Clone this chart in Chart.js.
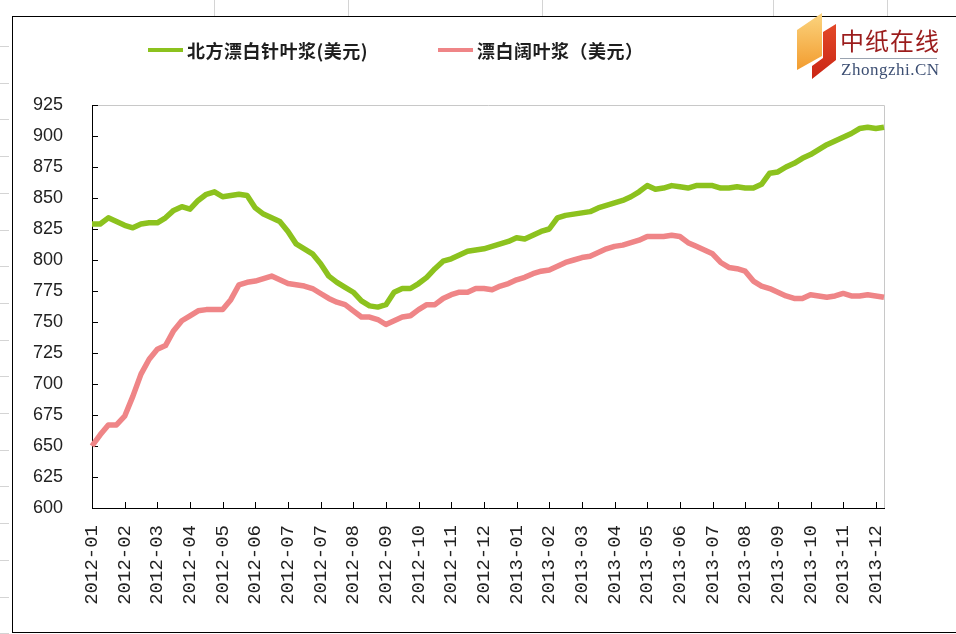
<!DOCTYPE html>
<html lang="zh-CN">
<head>
<meta charset="utf-8">
<title>北方漂白针叶浆 / 漂白阔叶浆 价格</title>
<script src="https://cdn.jsdelivr.net/npm/chart.js@4.4.1/dist/chart.umd.min.js"></script>
<style>
  html, body { margin: 0; padding: 0; background: #fff; }
  body { width: 956px; height: 634px; position: relative; overflow: hidden; font-family: "Noto Sans CJK SC", sans-serif; }
  #frame { position: absolute; left: 12px; top: 16px; width: 950px; height: 615px; border-left: 1px solid #000; border-top: 1px solid #000; border-bottom: 1px solid #000; }
  .cell-v { position: absolute; top: 0; width: 1px; height: 16px; background: #d4d4d4; }
  .cell-h { position: absolute; left: 0; width: 9px; height: 1px; background: #d4d4d4; }
  #legend { position: absolute; left: 148px; top: 37px; display: flex; align-items: center; }
  .legend-item { display: flex; align-items: center; margin-right: 70px; font-size: 18px; font-weight: 700; color: #1e1e1e; white-space: nowrap; letter-spacing: 0.5px; }
  .legend-line { width: 35px; height: 4px; margin-right: 4px; }
  #logo { position: absolute; left: 795px; top: 12px; width: 150px; height: 70px; }
  .logo-orange { position: absolute; left: 0; top: 0; width: 30px; height: 60px; background: linear-gradient(#fbd580, #f29a2c); clip-path: polygon(2px 18px, 27px 1px, 27px 44px, 2px 58px); }
  .logo-red { position: absolute; left: 0; top: 0; width: 42px; height: 70px; background: linear-gradient(#e8502c, #c92414); clip-path: polygon(28px 20px, 41px 12px, 41px 48px, 17px 67px, 17px 54px, 28px 46px); }
  .logo-cn { position: absolute; left: 45px; top: 13px; font-size: 24px; letter-spacing: 1px; color: #9b1c1c; line-height: 30px; }
  .logo-rule { position: absolute; left: 45px; top: 46px; width: 97px; height: 1px; background: #9aa3b0; }
  .logo-en { position: absolute; left: 46px; top: 48px; font-family: "Liberation Serif", serif; font-size: 17px; letter-spacing: 0.5px; color: #3d4f73; line-height: 20px; }
</style>
</head>
<body>
<div id="frame"></div>
<canvas id="pulpChart" width="956" height="634"></canvas>
<div id="legend"></div>
<div id="logo">
  <div class="logo-orange"></div>
  <div class="logo-red"></div>
  <div class="logo-cn">中纸在线</div>
  <div class="logo-rule"></div>
  <div class="logo-en">Zhongzhi.CN</div>
</div>
<script>
// month labels shown under every 4th weekly point (the sheet repeats 2012-07)
const tickLabels = [
  "2012-01", "2012-02", "2012-03", "2012-04", "2012-05", "2012-06", "2012-07", "2012-07",
  "2012-08", "2012-09", "2012-10", "2012-11", "2012-12",
  "2013-01", "2013-02", "2013-03", "2013-04", "2013-05", "2013-06", "2013-07",
  "2013-08", "2013-09", "2013-10", "2013-11", "2013-12"
];

const seriesNames = ["北方漂白针叶浆(美元)", "漂白阔叶浆（美元）"];

// weekly prices, USD/t
const softwood = [
  829, 829, 834, 831, 828, 826, 829, 830, 830, 834,
  840, 843, 841, 848, 853, 855, 851, 852, 853, 852,
  842, 837, 834, 831, 823, 813, 809, 805, 797, 787,
  782, 778, 774, 767, 763, 762, 764, 774, 777, 777,
  781, 786, 793, 799, 801, 804, 807, 808, 809, 811,
  813, 815, 818, 817, 820, 823, 825, 834, 836, 837,
  838, 839, 842, 844, 846, 848, 851, 855, 860, 857,
  858, 860, 859, 858, 860, 860, 860, 858, 858, 859,
  858, 858, 861, 870, 871, 875, 878, 882, 885, 889,
  893, 896, 899, 902, 906, 907, 906, 907
];

const hardwood = [
  650, 659, 667, 667, 674, 690, 708, 720, 728, 731,
  743, 751, 755, 759, 760, 760, 760, 768, 780, 782,
  783, 785, 787, 784, 781, 780, 779, 777, 773, 769,
  766, 764, 759, 754, 754, 752, 748, 751, 754, 755,
  760, 764, 764, 769, 772, 774, 774, 777, 777, 776,
  779, 781, 784, 786, 789, 791, 792, 795, 798, 800,
  802, 803, 806, 809, 811, 812, 814, 816, 819, 819,
  819, 820, 819, 814, 811, 808, 805, 798, 794, 793,
  791, 783, 779, 777, 774, 771, 769, 769, 772, 771,
  770, 771, 773, 771, 771, 772, 771, 770
];

const weeks = softwood.map((_, i) => i);
const labelEvery = 4;

// inward tick marks + grey frame on top/right, black axes left/bottom
const axisFrame = {
  id: "axisFrame",
  beforeDatasetsDraw(chart) {
    const { ctx, chartArea: a, scales: { x, y } } = chart;
    ctx.save();
    ctx.lineWidth = 1;
    ctx.strokeStyle = "#c8c8c8";
    ctx.beginPath();
    ctx.moveTo(a.left, a.top + 0.5);
    ctx.lineTo(a.right + 0.5, a.top + 0.5);
    ctx.lineTo(a.right + 0.5, a.bottom);
    ctx.stroke();

    ctx.strokeStyle = "#000";
    ctx.beginPath();
    ctx.moveTo(a.left + 0.5, a.top);
    ctx.lineTo(a.left + 0.5, a.bottom + 0.5);
    ctx.lineTo(a.right + 1, a.bottom + 0.5);
    y.ticks.forEach(t => {
      const py = Math.round(y.getPixelForValue(t.value)) + 0.5;
      ctx.moveTo(a.left, py);
      ctx.lineTo(a.left + 6, py);
    });
    tickLabels.forEach((_, i) => {
      const px = Math.round(x.getPixelForValue(i * labelEvery)) + 0.5;
      ctx.moveTo(px, a.bottom);
      ctx.lineTo(px, a.bottom - 6);
    });
    ctx.stroke();
    ctx.restore();
  }
};

const chart = new Chart(document.getElementById("pulpChart"), {
  type: "line",
  data: {
    labels: weeks,
    datasets: [
      {
        label: seriesNames[0],
        data: softwood,
        borderColor: "#8cc21e",
        backgroundColor: "#8cc21e",
        borderWidth: 5.5,
        pointRadius: 0,
        tension: 0,
        borderJoinStyle: "round"
      },
      {
        label: seriesNames[1],
        data: hardwood,
        borderColor: "#ef8587",
        backgroundColor: "#ef8587",
        borderWidth: 5.5,
        pointRadius: 0,
        tension: 0,
        borderJoinStyle: "round"
      }
    ]
  },
  options: {
    responsive: false,
    animation: false,
    layout: { padding: { left: 12, top: 105, right: 72, bottom: 0 } },
    plugins: {
      legend: { display: false },
      tooltip: { enabled: false }
    },
    scales: {
      x: {
        type: "category",
        offset: false,
        grid: { display: false, drawTicks: false },
        border: { display: false },
        ticks: {
          autoSkip: false,
          minRotation: 90,
          maxRotation: 90,
          padding: 17,
          color: "#222",
          font: { family: "Liberation Mono", size: 19 },
          callback: (v, i) => (i % labelEvery === 0 ? tickLabels[i / labelEvery] : null)
        },
        afterFit(scale) {
          scale.height = 126;
          scale.paddingLeft = 0;
          scale.paddingRight = 0;
        }
      },
      y: {
        min: 600,
        max: 925,
        grid: { display: false, drawTicks: false },
        border: { display: false },
        ticks: {
          stepSize: 25,
          padding: 29,
          color: "#222",
          font: { family: "Liberation Sans", size: 18 }
        },
        afterFit(scale) {
          scale.width = 80;
          scale.paddingTop = 0;
          scale.paddingBottom = 0;
        }
      }
    }
  },
  plugins: [axisFrame]
});

// html legend from the chart's own legend items
function buildLegend() {
  const box = document.getElementById("legend");
  const items = chart.options.plugins.legend.labels.generateLabels(chart);
  items.forEach(item => {
    const el = document.createElement("div");
    el.className = "legend-item";
    const line = document.createElement("span");
    line.className = "legend-line";
    line.style.background = item.strokeStyle;
    el.appendChild(line);
    el.appendChild(document.createTextNode(item.text));
    box.appendChild(el);
  });
}
buildLegend();

// faint spreadsheet cell lines around the chart object
function drawSheetLines() {
  [214, 348, 542, 773, 887].forEach(x => {
    const d = document.createElement("div");
    d.className = "cell-v";
    d.style.left = x + "px";
    document.body.appendChild(d);
  });
  for (let yy = 46; yy < 634; yy += 36.7) {
    const d = document.createElement("div");
    d.className = "cell-h";
    d.style.top = Math.round(yy) + "px";
    document.body.appendChild(d);
  }
}
drawSheetLines();
</script>
</body>
</html>
